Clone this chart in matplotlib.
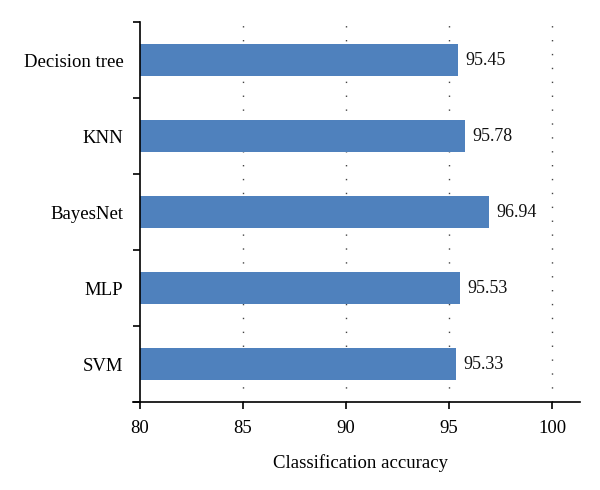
import numpy as np
import matplotlib
matplotlib.use("Agg")
import matplotlib.pyplot as plt

plt.rcParams['font.family'] = ['Liberation Serif', 'DejaVu Serif']

classifiers = ['Decision tree', 'KNN', 'BayesNet', 'MLP', 'SVM']
accuracy = [95.45, 95.78, 96.94, 95.53, 95.33]
xticks = [80, 85, 90, 95, 100]

fig = plt.figure(figsize=(6, 4.9), dpi=100)
ax = fig.add_axes([0.2333, 0.1796, 0.7334, 0.7754])

y = np.arange(len(classifiers))[::-1]
ax.barh(y, np.array(accuracy) - 80, left=80, height=0.42, color='#4f81bd', zorder=2)

for yi, v in zip(y, accuracy):
    ax.text(v + 0.35, yi, '%.2f' % v, va='center', ha='left', fontsize=13, color='#111111')

ax.set_xlim(80, 101.35)
ax.set_ylim(-0.5, 4.5)
ax.set_xticks(xticks)
ax.set_xticklabels([str(t) for t in xticks])
ax.set_yticks(y)
ax.set_yticklabels(classifiers)
ax.set_yticks(np.arange(-0.5, 5.0, 1.0), minor=True)
ax.tick_params(axis='y', which='major', length=0, pad=12, labelsize=13.5)
ax.tick_params(axis='y', which='minor', length=5, width=1.2, direction='out')
ax.tick_params(axis='x', length=5, width=1.2, direction='out', pad=8, labelsize=13.5)

for t in xticks[1:]:
    ax.axvline(t, color='#444444', linestyle=(0, (1, 9)), linewidth=1.0, zorder=1)

for s in ['top', 'right']:
    ax.spines[s].set_visible(False)
ax.spines['left'].set_linewidth(1.2)
ax.spines['bottom'].set_linewidth(1.2)
ax.spines['bottom'].set_bounds(79.65, 101.35)

ax.set_xlabel('Classification accuracy', fontsize=13.5, labelpad=12)

fig.savefig('out.png', dpi=100)
